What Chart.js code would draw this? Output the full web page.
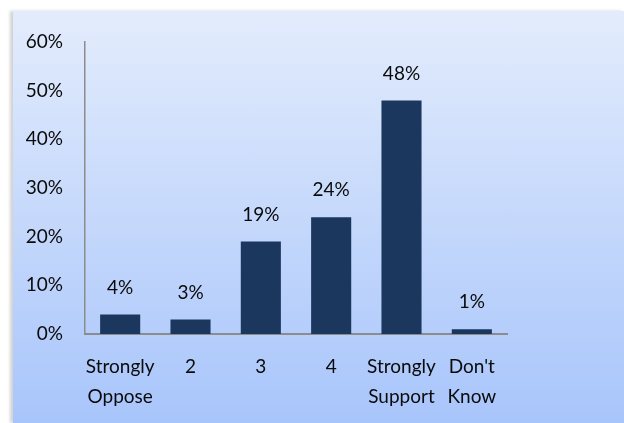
<!DOCTYPE html>
<html>
<head>
<meta charset="utf-8">
<script src="https://cdn.jsdelivr.net/npm/chart.js@4.4.1/dist/chart.umd.min.js"></script>
<style>
  html, body { margin: 0; padding: 0; background: #ffffff; }
  #wrap { position: relative; width: 624px; height: 423px; overflow: hidden; }
  #panel {
    position: absolute; left: 13px; top: 11px; right: 0; bottom: 0;
    background: linear-gradient(to bottom, #e3ecfc 0%, #a8c5fb 100%);
    box-shadow: -3px 0 3px rgba(0,0,0,0.18);
  }
  #chart { position: absolute; left: 0; top: 0; }
</style>
</head>
<body>
<div id="wrap">
  <div id="panel"></div>
  <canvas id="chart" width="624" height="423"></canvas>
</div>
<script>
// Survey responses, share of respondents (%)
const categories = [["Strongly", "Oppose"], "2", "3", "4", ["Strongly", "Support"], ["Don't", "Know"]];
const shares = [4, 3, 19, 24, 48, 1];
const yTicks = [0, 10, 20, 30, 40, 50, 60];

const FONT = "Lato, 'Open Sans', sans-serif";
const TEXT = "#0a0a0a";
const SIZE = 19;

// Percent labels above each bar
const valueLabels = {
  id: 'valueLabels',
  afterDatasetsDraw(chart) {
    const ctx = chart.ctx;
    const meta = chart.getDatasetMeta(0);
    ctx.save();
    ctx.font = SIZE + "px " + FONT;
    ctx.fillStyle = TEXT;
    ctx.textAlign = 'center';
    ctx.textBaseline = 'middle';
    meta.data.forEach((bar, i) => {
      ctx.fillText(shares[i] + '%', bar.x, bar.y - 27);
    });
    ctx.restore();
  }
};

new Chart(document.getElementById('chart'), {
  type: 'bar',
  data: {
    labels: categories,
    datasets: [{
      data: shares,
      backgroundColor: '#1b375e',
      borderWidth: 0,
      barPercentage: 0.57,
      categoryPercentage: 1.0
    }]
  },
  options: {
    responsive: false,
    animation: false,
    layout: { padding: { left: 0, right: 117, top: 42, bottom: 0 } },
    plugins: { legend: { display: false }, tooltip: { enabled: false } },
    scales: {
      x: {
        grid: { display: false, drawTicks: false },
        border: { display: true, color: '#8c8c8c', width: 2 },
        ticks: {
          color: TEXT,
          font: { family: FONT, size: SIZE, lineHeight: 1.58 },
          padding: 18,
          maxRotation: 0,
          autoSkip: false
        },
        afterFit(scale) { scale.height = 89; }
      },
      y: {
        min: 0,
        max: 60,
        afterBuildTicks(scale) { scale.ticks = yTicks.map(v => ({ value: v })); },
        grid: { display: false, drawTicks: false },
        border: { display: true, color: '#8c8c8c', width: 1.5 },
        ticks: {
          color: TEXT,
          font: { family: FONT, size: SIZE },
          padding: 22,
          callback: v => v + '%'
        },
        afterFit(scale) { scale.width = 85; }
      }
    }
  },
  plugins: [valueLabels]
});
</script>
</body>
</html>
